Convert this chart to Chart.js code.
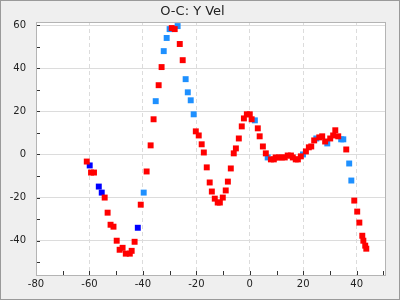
<!DOCTYPE html>
<html>
<head>
<meta charset="utf-8">
<script src="https://cdn.jsdelivr.net/npm/chart.js@4/dist/chart.umd.min.js"></script>
<style>
  html, body { margin: 0; padding: 0; background: #efefef; }
  canvas { display: block; }
</style>
</head>
<body>
<canvas id="chart" width="400" height="300"></canvas>
<script>
// red points (main series)
const redX = [-61.0, -59.4, -58.3, -54.3, -53.2, -52.1, -51.0, -49.8, -48.7, -47.6, -46.4, -44.9, -44.2, -43.1,
  -40.8, -38.6, -37.1, -36.0, -34.1, -33.0, -29.2, -28.1, -26.2, -25.1, -20.2, -19.1, -18.0, -17.2, -16.1, -15.0,
  -14.2, -13.1, -12.0, -11.2, -10.1, -9.0, -8.2, -7.1, -6.0, -5.2, -4.1, -3.0, -2.2, -1.1, 0.0, 0.7, 3.0, 3.7,
  4.9, 6.0, 7.9, 9.0, 9.7, 10.9, 12.0, 13.1, 14.2, 15.4, 16.1, 17.2, 18.0, 19.1, 21.0, 22.1, 23.0, 24.1, 26.0,
  27.1, 28.2, 30.1, 31.2, 32.0, 33.1, 36.1, 39.1, 40.2, 41.0, 42.1, 42.5, 43.2, 43.6];
const redY = [-3.3, -8.4, -8.4, -20.0, -27.0, -32.6, -33.5, -40.0, -44.2, -43.3, -46.0, -46.0, -44.7, -40.5,
  -23.3, -7.9, 4.2, 16.3, 32.1, 40.5, 58.6, 58.1, 51.2, 43.7, 10.7, 8.8, 4.7, 0.9, -6.0, -13.0,
  -17.2, -20.5, -22.3, -22.3, -20.0, -16.7, -12.6, -6.5, 0.5, 2.8, 7.4, 13.0, 16.7, 18.6, 18.6, 16.3, 12.1, 8.4,
  3.7, 0.5, -2.3, -2.3, -1.4, -1.4, -1.4, -1.4, -0.5, -0.5, -1.4, -2.3, -2.3, -0.9, 1.4, 3.3, 3.7, 6.5, 7.9,
  8.4, 6.0, 7.4, 8.8, 11.2, 8.4, 2.3, -21.4, -26.5, -31.6, -37.7, -40.0, -42.3, -43.7];

// light blue points
const lightX = [-39.7, -35.2, -32.2, -31.1, -30.0, -27.0, -24.0, -23.2, -22.1, -21.0, 1.9, 6.7, 19.9, 24.9,
  29.0, 34.2, 35.0, 37.2, 38.0];
const lightY = [-17.7, 24.7, 47.9, 54.0, 58.1, 59.5, 34.9, 28.8, 25.1, 18.6, 15.8, -1.4, 0.0, 7.4,
  5.1, 7.0, 7.0, -4.2, -12.1];

// dark blue points
const darkX = [-59.9, -56.5, -55.4, -41.9];
const darkY = [-5.1, -14.9, -17.7, -34.0];

const xTicks = [-80, -70, -60, -50, -40, -30, -20, -10, 0, 10, 20, 30, 40, 50];
const yTicks = [-50, -40, -30, -20, -10, 0, 10, 20, 30, 40, 50, 60];

function pts(xs, ys) {
  return xs.map((x, i) => ({ x: x, y: ys[i] }));
}

const frame = {
  id: 'frame',
  beforeDraw(chart) {
    const c = chart.ctx;
    const a = chart.chartArea;
    c.save();
    c.fillStyle = '#efefef';
    c.fillRect(0, 0, chart.width, chart.height);
    c.fillStyle = '#ffffff';
    c.fillRect(a.left, a.top, a.right - a.left, a.bottom - a.top);
    c.restore();
  },
  afterDraw(chart) {
    const c = chart.ctx;
    const a = chart.chartArea;
    const xs = chart.scales.x, ys = chart.scales.y;
    c.save();
    c.strokeStyle = '#333';
    c.lineWidth = 1;
    c.beginPath();
    xTicks.forEach(v => {
      const px = Math.round(xs.getPixelForValue(v)) + 0.5;
      c.moveTo(px, a.bottom);
      c.lineTo(px, a.bottom - 4);
    });
    yTicks.forEach(v => {
      const py = Math.round(ys.getPixelForValue(v)) + 0.5;
      c.moveTo(a.left, py);
      c.lineTo(a.left + 4, py);
    });
    c.stroke();
    c.strokeStyle = '#b4b4b4';
    c.strokeRect(Math.round(a.left) + 0.5, Math.round(a.top) + 0.5,
      Math.round(a.right - a.left), Math.round(a.bottom - a.top));
    c.strokeStyle = '#9a9a9a';
    c.strokeRect(0.5, 0.5, chart.width - 1, chart.height - 1);
    c.restore();
  }
};

const ctx = document.getElementById('chart');
Chart.defaults.font.family = '"DejaVu Sans", sans-serif';
Chart.defaults.color = '#222';

new Chart(ctx, {
  type: 'scatter',
  data: {
    datasets: [
      { data: pts(redX, redY), backgroundColor: '#ff0000' },
      { data: pts(lightX, lightY), backgroundColor: '#1e90ff' },
      { data: pts(darkX, darkY), backgroundColor: '#0000ff' }
    ]
  },
  options: {
    responsive: false,
    animation: false,
    events: [],
    layout: { padding: { left: 0, right: 15, top: 0, bottom: 0 } },
    elements: {
      point: { pointStyle: 'rect', radius: 4.2, borderWidth: 0, hoverRadius: 4.2 }
    },
    plugins: {
      legend: { display: false },
      tooltip: { enabled: false },
      title: {
        display: true,
        text: 'O-C: Y Vel',
        font: { size: 13, weight: 'normal' },
        color: '#222',
        padding: { top: 4, bottom: 2.4 }
      }
    },
    scales: {
      x: {
        type: 'linear',
        min: -80,
        max: 50.6,
        afterBuildTicks: s => { s.ticks = xTicks.map(v => ({ value: v })); },
        afterFit: s => { s.height = 25; },
        // dashed vertical grid lines
        border: { display: false, dash: [4, 3] },
        grid: {
          drawTicks: false,
          color: c => (c.tick && c.tick.value % 20 === 0) ? '#dcdcdc' : 'rgba(0,0,0,0)'
        },
        ticks: {
          autoSkip: false,
          maxRotation: 0,
          padding: 3,
          font: { size: 10 },
          callback: v => (v % 20 === 0 ? v : '')
        }
      },
      y: {
        type: 'linear',
        min: -55.9,
        max: 61.4,
        afterBuildTicks: s => { s.ticks = yTicks.map(v => ({ value: v })); },
        afterFit: s => { s.width = 36; },
        border: { display: false },
        grid: {
          drawTicks: false,
          color: c => (c.tick && c.tick.value % 20 === 0) ? '#dcdcdc' : 'rgba(0,0,0,0)'
        },
        ticks: {
          autoSkip: false,
          padding: 10,
          font: { size: 10 },
          callback: v => (v % 20 === 0 ? v : '')
        }
      }
    }
  },
  plugins: [frame]
});
</script>
</body>
</html>
